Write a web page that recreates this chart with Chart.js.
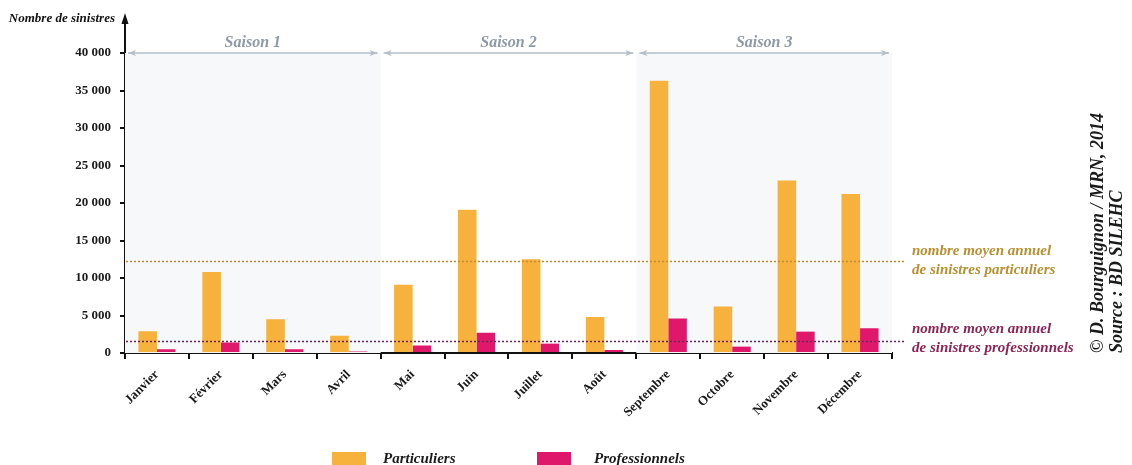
<!DOCTYPE html>
<html><head><meta charset="utf-8">
<script src="https://cdn.jsdelivr.net/npm/chart.js@4/dist/chart.umd.min.js"></script>
<style>html,body{margin:0;padding:0;background:#fff}canvas{display:block}</style>
</head><body>
<canvas id="c" width="1132" height="465"></canvas>
<script>
// ---- data ----
const months = ['Janvier','Février','Mars','Avril','Mai','Juin','Juillet','Août','Septembre','Octobre','Novembre','Décembre'];
const particuliers = [2900, 10800, 4500, 2300, 9100, 19100, 12500, 4800, 36300, 6200, 23000, 21200];
const professionnels = [500, 1400, 500, 200, 1000, 2700, 1250, 400, 4600, 850, 2850, 3300];
const avgParticuliers = 12250;
const avgProfessionnels = 1600;
const yTickValues = [0, 5000, 10000, 15000, 20000, 25000, 30000, 35000, 40000];
const yTickLabels = ['0', '5 000', '10 000', '15 000', '20 000', '25 000', '30 000', '35 000', '40 000'];
const seasonNames = ['Saison 1', 'Saison 2', 'Saison 3'];
const seasonFirstMonth = [0, 4, 8];
const seasonLastMonth = [3, 7, 11];
const seriesNames = ['Particuliers', 'Professionnels'];
const avgLabels = [['nombre moyen annuel', 'de sinistres particuliers'], ['nombre moyen annuel', 'de sinistres professionnels']];
const credits = ['© D. Bourguignon / MRN, 2014', 'Source : BD SILEHC'];
const yAxisTitle = 'Nombre de sinistres';

const ORANGE = '#f6b23c', PINK = '#e0186c';
const SERIF = '"Liberation Serif", "DejaVu Serif", serif';

const deco = {
  id: 'deco',
  beforeDatasetsDraw(chart) {
    const {ctx, chartArea: a, scales: {x, y}} = chart;
    const cw = (a.right - a.left) / months.length;
    ctx.save();
    [0, 2].forEach(i => {
      const l = x.getPixelForValue(seasonFirstMonth[i]) - cw / 2;
      const r = x.getPixelForValue(seasonLastMonth[i]) + cw / 2;
      ctx.fillStyle = '#f6f8fa';
      ctx.fillRect(l, a.top, r - l, a.bottom - a.top);
    });
    ctx.restore();
  },
  afterDatasetsDraw(chart) {
    const {ctx, chartArea: a, scales: {x, y}} = chart;
    const cw = (a.right - a.left) / months.length;
    ctx.save();
    // average lines
    const lineEnd = 905;
    [[avgParticuliers, '#c98a2e'], [avgProfessionnels, '#6e2456']].forEach(([v, c]) => {
      const py = Math.round(y.getPixelForValue(v)) + 0.5;
      ctx.strokeStyle = c; ctx.lineWidth = 1.6; ctx.setLineDash([2, 2]);
      ctx.beginPath(); ctx.moveTo(a.left + 1, py); ctx.lineTo(lineEnd, py); ctx.stroke();
    });
    ctx.setLineDash([]);
    // avg labels
    ctx.font = 'italic bold 15px ' + SERIF;
    ctx.textAlign = 'left'; ctx.textBaseline = 'middle';
    const pY = y.getPixelForValue(avgParticuliers);
    ctx.fillStyle = '#b98f32';
    ctx.fillText(avgLabels[0][0], 912, pY - 10);
    ctx.fillText(avgLabels[0][1], 912, pY + 9);
    const qY = y.getPixelForValue(avgProfessionnels);
    ctx.fillStyle = '#8c2456';
    ctx.fillText(avgLabels[1][0], 912, qY - 12);
    ctx.fillText(avgLabels[1][1], 912, qY + 7);

    // season brackets
    const sy = y.getPixelForValue(40000);
    ctx.strokeStyle = '#b4bec9'; ctx.fillStyle = '#b4bec9'; ctx.lineWidth = 1.3;
    seasonNames.forEach((s, i) => {
      const l = x.getPixelForValue(seasonFirstMonth[i]) - cw / 2 + 3;
      const r = x.getPixelForValue(seasonLastMonth[i]) + cw / 2 - 3;
      ctx.beginPath(); ctx.moveTo(l, sy); ctx.lineTo(r, sy); ctx.stroke();
      ctx.beginPath(); ctx.moveTo(l, sy); ctx.lineTo(l + 8, sy - 3); ctx.lineTo(l + 6, sy); ctx.lineTo(l + 8, sy + 3); ctx.closePath(); ctx.fill();
      ctx.beginPath(); ctx.moveTo(r, sy); ctx.lineTo(r - 8, sy - 3); ctx.lineTo(r - 6, sy); ctx.lineTo(r - 8, sy + 3); ctx.closePath(); ctx.fill();
      ctx.save();
      ctx.fillStyle = '#8e9aa7';
      ctx.font = 'italic bold 16px ' + SERIF;
      ctx.textAlign = 'center'; ctx.textBaseline = 'alphabetic';
      ctx.fillText(s, (l + r) / 2, sy - 6);
      ctx.restore();
    });

    // y axis arrow
    ctx.strokeStyle = '#111'; ctx.fillStyle = '#111'; ctx.lineWidth = 2;
    ctx.beginPath(); ctx.moveTo(a.left, a.top); ctx.lineTo(a.left, 20); ctx.stroke();
    ctx.beginPath(); ctx.moveTo(a.left, 13); ctx.lineTo(a.left - 3.5, 24); ctx.lineTo(a.left + 3.5, 24); ctx.closePath(); ctx.fill();
    ctx.font = 'italic bold 13px ' + SERIF;
    ctx.textAlign = 'right'; ctx.textBaseline = 'middle';
    ctx.fillStyle = '#111';
    ctx.fillText(yAxisTitle, 115, 19);

    // legend
    const items = [[332, 383], [537, 594]];
    ctx.font = 'italic bold 15px ' + SERIF;
    ctx.textAlign = 'left'; ctx.textBaseline = 'alphabetic';
    chart.data.datasets.forEach((ds, i) => {
      const [bx, tx] = items[i];
      ctx.fillStyle = ds.backgroundColor;
      ctx.fillRect(bx, 452, 34, 14);
      ctx.fillStyle = '#1a1a1a';
      ctx.fillText(ds.label, tx, 463);
    });

    // credits
    ctx.font = 'italic bold 18px ' + SERIF;
    ctx.fillStyle = '#1a1a1a';
    ctx.textAlign = 'left'; ctx.textBaseline = 'middle';
    [[1098, credits[0]], [1117, credits[1]]].forEach(([cx, t]) => {
      ctx.save(); ctx.translate(cx, 353); ctx.rotate(-Math.PI / 2);
      ctx.fillText(t, 0, 0); ctx.restore();
    });
    ctx.restore();
  }
};

new Chart(document.getElementById('c'), {
  type: 'bar',
  data: {
    labels: months,
    datasets: [
      {label: seriesNames[0], data: particuliers, backgroundColor: ORANGE, barPercentage: 1, categoryPercentage: 0.58},
      {label: seriesNames[1], data: professionnels, backgroundColor: PINK, barPercentage: 1, categoryPercentage: 0.58}
    ]
  },
  options: {
    responsive: false, animation: false, devicePixelRatio: 1,
    layout: {padding: {top: 53, right: 240, left: 0, bottom: 0}},
    plugins: {legend: {display: false}, tooltip: {enabled: false}},
    scales: {
      x: {
        afterFit(s) { s.height = 112; },
        grid: {drawOnChartArea: false, drawTicks: true, tickLength: 6, color: '#111', lineWidth: 2},
        border: {display: true, color: '#111', width: 2},
        ticks: {autoSkip: false, maxRotation: 45, minRotation: 45, padding: 8, color: '#1a1a1a',
          font: {family: SERIF, weight: 'bold', size: 13}}
      },
      y: {
        min: 0, max: 40000,
        afterFit(s) { s.width = 125; },
        afterBuildTicks(s) { s.ticks = yTickValues.map(v => ({value: v})); },
        grid: {drawOnChartArea: false, drawTicks: true, tickLength: 5, color: '#111', lineWidth: 2},
        border: {display: true, color: '#111', width: 2},
        ticks: {padding: 9, color: '#1a1a1a', font: {family: SERIF, weight: 'bold', size: 13},
          callback: (v) => yTickLabels[yTickValues.indexOf(v)]}
      }
    }
  },
  plugins: [deco]
});
</script>
</body></html>
